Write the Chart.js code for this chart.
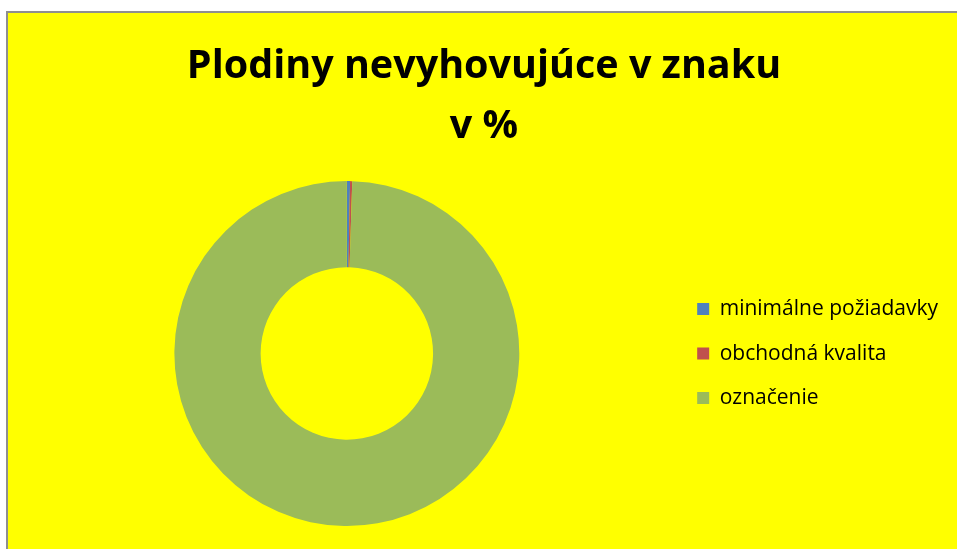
<!DOCTYPE html>
<html>
<head>
<meta charset="utf-8">
<script src="https://cdn.jsdelivr.net/npm/chart.js@4.4.1/dist/chart.umd.min.js"></script>
<style>
  html, body { margin: 0; padding: 0; background: #fff; overflow: hidden; }
  #box {
    position: absolute; left: 6px; top: 11px;
    width: 1000px; height: 600px;
    border: 2px solid #8f8f8f;
    background: #ffff00;
  }
  #graf { position: absolute; left: 0; top: 0; }
</style>
</head>
<body>
<div id="box">
  <canvas id="graf" width="960" height="513"></canvas>
</div>
<script>
// kategórie a hodnoty (v %)
const kategorie = ["minimálne požiadavky", "obchodná kvalita", "označenie"];
const hodnoty = [0.3, 0.2, 99.5];
const farby = ["#4F81BD", "#C0504D", "#9BBB59"];
const nadpis = ["Plodiny nevyhovujúce v znaku", "v %"];

const ctx = document.getElementById("graf").getContext("2d");

new Chart(ctx, {
    type: "doughnut",
    data: {
        labels: kategorie,
        datasets: [{
            data: hodnoty,
            backgroundColor: farby,
            borderWidth: 0
        }]
    },
    options: {
        responsive: false,
        animation: false,
        cutout: "50%",
        layout: {
            padding: { left: 12, right: 20, top: 0, bottom: 0 }
        },
        plugins: {
            title: {
                display: true,
                text: nadpis,
                color: "#000",
                font: { family: "Open Sans", weight: "bold", size: 39.5, lineHeight: 1.52 },
                padding: { top: 24, bottom: 24 }
            },
            legend: {
                position: "right",
                align: "center",
                fullSize: false,
                labels: {
                    color: "#000",
                    font: { family: "Open Sans", size: 21 },
                    boxWidth: 12,
                    boxHeight: 12,
                    padding: 23.5
                }
            },
            tooltip: { enabled: false }
        }
    }
});
</script>
</body>
</html>
